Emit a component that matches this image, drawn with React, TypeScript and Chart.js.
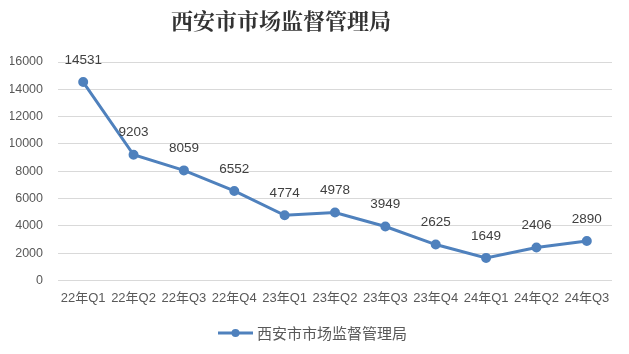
import React, { useEffect, useRef } from "react";
import { Chart, registerables } from "chart.js";

Chart.register(...registerables);

const titleText = "西安市市场监督管理局";
const seriesName = "西安市市场监督管理局";
const categories = ["22年Q1", "22年Q2", "22年Q3", "22年Q4", "23年Q1", "23年Q2", "23年Q3", "23年Q4", "24年Q1", "24年Q2", "24年Q3"];
const values = [14531, 9203, 8059, 6552, 4774, 4978, 3949, 2625, 1649, 2406, 2890];
const yTicks = [0, 2000, 4000, 6000, 8000, 10000, 12000, 14000, 16000];

const LINE_COLOR = "#4f81bd";
const TEXT_COLOR = "#595959";
const FONT = "'Liberation Sans', 'Noto Sans CJK SC', sans-serif";

const titleLegendPlugin = {
  id: "titleLegend",
  afterDraw(chart: any) {
    const ctx = chart.ctx;
    ctx.save();
    // title
    ctx.font = "bold 22px 'Noto Serif CJK SC', 'Noto Sans CJK SC', serif";
    ctx.fillStyle = "#333333";
    ctx.textAlign = "center";
    ctx.textBaseline = "middle";
    ctx.fillText(titleText, 281, 21);
    // legend
    const ly = 333;
    ctx.strokeStyle = LINE_COLOR;
    ctx.lineWidth = 3;
    ctx.beginPath();
    ctx.moveTo(218, ly);
    ctx.lineTo(253, ly);
    ctx.stroke();
    ctx.fillStyle = LINE_COLOR;
    ctx.beginPath();
    ctx.arc(235.5, ly, 4, 0, Math.PI * 2);
    ctx.fill();
    ctx.font = "15px 'Noto Sans CJK SC', sans-serif";
    ctx.fillStyle = TEXT_COLOR;
    ctx.textAlign = "left";
    ctx.fillText(seriesName, 257, ly);
    ctx.restore();
  },
};

const dataLabelPlugin = {
  id: "dataLabels",
  afterDatasetsDraw(chart: any) {
    const ctx = chart.ctx;
    const meta = chart.getDatasetMeta(0);
    ctx.save();
    ctx.font = "13.5px " + FONT;
    ctx.fillStyle = "#404040";
    ctx.textAlign = "center";
    ctx.textBaseline = "middle";
    meta.data.forEach((pt: any, i: number) => {
      ctx.fillText(String(values[i]), pt.x, pt.y - 22);
    });
    ctx.restore();
  },
};

export default function App() {
  const ref = useRef<HTMLCanvasElement>(null);
  useEffect(() => {
    document.body.style.margin = "0";
    const chart = new Chart(ref.current!, {
      type: "line",
      data: {
        labels: categories,
        datasets: [
          {
            label: seriesName,
            data: values,
            borderColor: LINE_COLOR,
            backgroundColor: LINE_COLOR,
            borderWidth: 3,
            pointRadius: 3.5,
            pointBackgroundColor: LINE_COLOR,
            pointBorderColor: LINE_COLOR,
            tension: 0,
          },
        ],
      },
      options: {
        responsive: false,
        animation: false,
        layout: { padding: { left: 10, right: 17, top: 62, bottom: 46 } },
        plugins: {
          title: { display: false },
          legend: { display: false },
          tooltip: { enabled: false },
        },
        scales: {
          x: {
            offset: true,
            grid: { display: false },
            border: { display: false },
            ticks: { color: TEXT_COLOR, font: { size: 13, family: FONT }, maxRotation: 0, autoSkip: false, padding: 2 },
          },
          y: {
            min: 0,
            max: 16000,
            afterBuildTicks: (axis: any) => {
              axis.ticks = yTicks.map((v) => ({ value: v }));
            },
            afterFit: (axis: any) => {
              axis.width = 48;
            },
            grid: { color: "#d9d9d9", drawTicks: false },
            border: { display: false },
            ticks: {
              color: TEXT_COLOR,
              font: { size: 12.5, family: FONT },
              padding: 15,
              callback: (v: any) => String(v),
            },
          },
        },
      },
      plugins: [dataLabelPlugin, titleLegendPlugin],
    });
    return () => chart.destroy();
  }, []);
  return (
    <div style={{ width: 629, height: 354 }}>
      <canvas ref={ref} width={629} height={354} />
    </div>
  );
}
